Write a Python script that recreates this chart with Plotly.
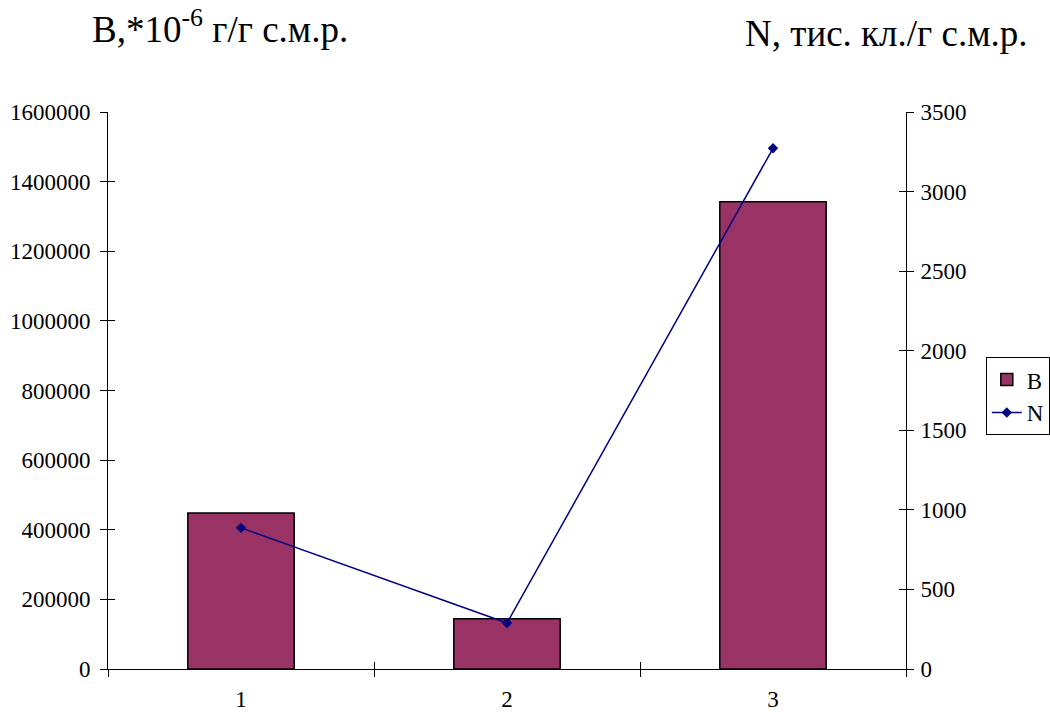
import plotly.graph_objects as go

# Sample groups and measured values
categories = ["1", "2", "3"]
biomass_b = [448000, 144500, 1342000]       # B, *10^-6 g/g
count_n = [887, 289, 3272]                  # N, thousand cells/g

left_ticks = [0, 200000, 400000, 600000, 800000, 1000000, 1200000, 1400000, 1600000]
right_ticks = [0, 500, 1000, 1500, 2000, 2500, 3000, 3500]

FONT = "Liberation Serif"
n_cat = len(categories)
boundaries = [i - 0.5 for i in range(n_cat + 1)]

fig = go.Figure()

fig.add_trace(go.Bar(
    x=categories, y=biomass_b, name="B",
    marker=dict(color="#993366", line=dict(color="black", width=1.5)),
    width=0.4, xaxis="x", yaxis="y",
))

fig.add_trace(go.Scatter(
    x=categories, y=count_n, name="N", mode="lines+markers",
    line=dict(color="#000080", width=1.5),
    marker=dict(symbol="diamond", size=8, color="#000080"),
    xaxis="x", yaxis="y2",
))

axis_common = dict(
    showgrid=False, zeroline=False, showline=True, linecolor="black",
    linewidth=1, tickcolor="black", tickwidth=1, automargin=False,
    tickfont=dict(family=FONT, size=23, color="black"),
)
helper_common = dict(
    ticks="inside", ticklen=7, tickcolor="black", tickwidth=1,
    showticklabels=False, showgrid=False, zeroline=False, showline=False,
    automargin=False,
)

fig.update_layout(
    width=1050, height=712,
    margin=dict(l=108, r=144, t=112, b=43, autoexpand=False),
    paper_bgcolor="white", plot_bgcolor="white",
    font=dict(family=FONT, color="black"),
    xaxis=dict(
        **axis_common, type="category", categoryarray=categories,
        range=[-0.5, n_cat - 0.5], tickson="boundaries",
        ticks="outside", ticklen=7, ticklabelstandoff=9,
    ),
    # inside half of the crossing tick marks on the category axis
    xaxis2=dict(
        **helper_common, overlaying="x", anchor="y", side="bottom",
        range=[-0.5, n_cat - 0.5], tickvals=boundaries,
    ),
    yaxis=dict(
        **axis_common, range=[0, 1600000], tickvals=left_ticks, tickformat="d",
        ticks="outside", ticklen=7, ticklabelstandoff=5,
    ),
    yaxis2=dict(
        **axis_common, overlaying="y", side="right", anchor="x",
        range=[0, 3500], tickvals=right_ticks, tickformat="d",
        ticks="outside", ticklen=7, ticklabelstandoff=2,
    ),
    yaxis3=dict(
        **helper_common, overlaying="y", side="left", anchor="x",
        range=[0, 1600000], tickvals=left_ticks,
    ),
    yaxis4=dict(
        **helper_common, overlaying="y", side="right", anchor="x",
        range=[0, 3500], tickvals=right_ticks,
    ),
    legend=dict(
        x=1.1, y=0.56, xanchor="left", yanchor="top",
        bordercolor="black", borderwidth=1, bgcolor="white",
        font=dict(family=FONT, size=23, color="black"),
        tracegroupgap=0, itemwidth=30,
    ),
    showlegend=True,
)

# Invisible traces so the helper tick axes are drawn
fig.add_trace(go.Scatter(x=[0], y=[0], xaxis="x2", yaxis="y3", mode="markers",
                         marker=dict(opacity=0), showlegend=False, hoverinfo="skip"))
fig.add_trace(go.Scatter(x=[0], y=[0], xaxis="x2", yaxis="y4", mode="markers",
                         marker=dict(opacity=0), showlegend=False, hoverinfo="skip"))

fig.add_annotation(
    text="B,*10<sup>-6</sup> г/г с.м.р.", xref="paper", yref="paper",
    x=-0.023, y=1.0, yshift=86, xanchor="left", yanchor="middle",
    showarrow=False, font=dict(family=FONT, size=37, color="black"),
)
fig.add_annotation(
    text="N, тис. кл./г с.м.р.", xref="paper", yref="paper",
    x=0.796, y=1.0, yshift=79, xanchor="left", yanchor="middle",
    showarrow=False, font=dict(family=FONT, size=37, color="black"),
)

fig.write_html("out.html")
